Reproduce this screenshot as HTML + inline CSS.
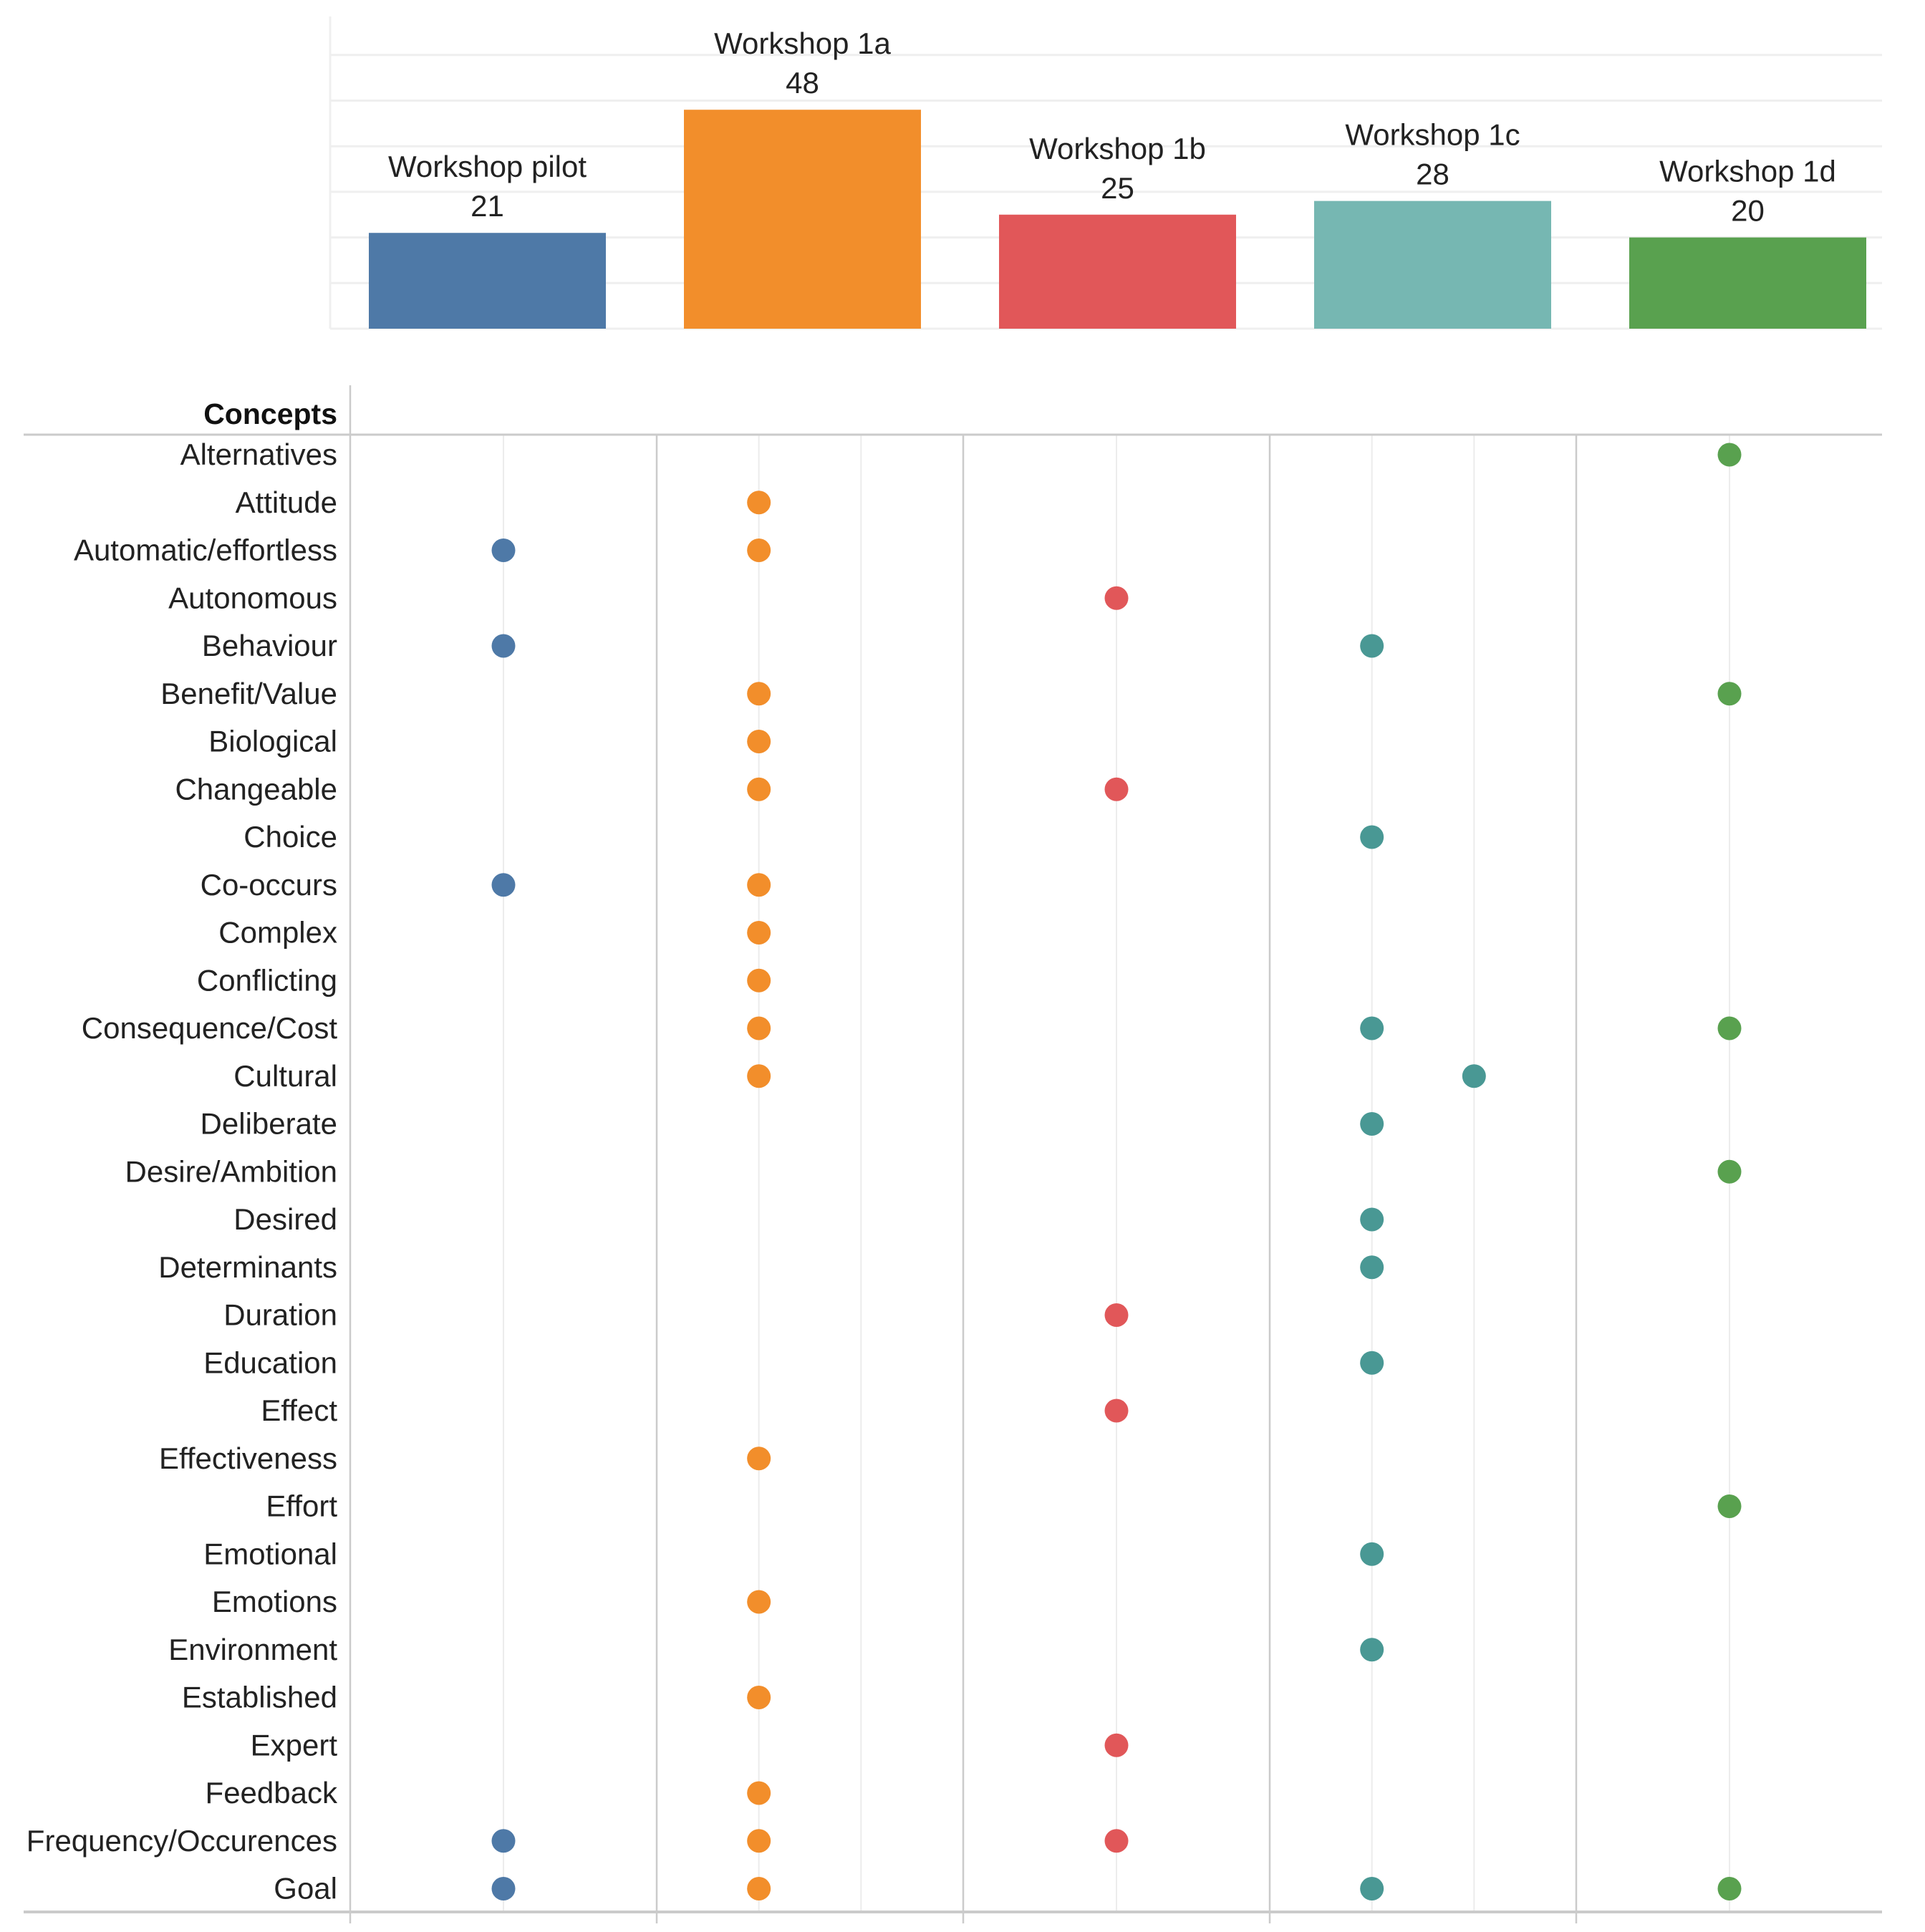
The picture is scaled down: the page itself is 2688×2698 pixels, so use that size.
<!DOCTYPE html>
<html><head><meta charset="utf-8"><style>
html,body{margin:0;padding:0;background:#fff}
svg{display:block;font-family:"Liberation Sans","DejaVu Sans",sans-serif}
</style></head><body>
<svg id="chart" xmlns="http://www.w3.org/2000/svg" width="2688" height="2698" viewBox="0 0 2688 2698"></svg>
<script>
const workshops = ["Workshop pilot","Workshop 1a","Workshop 1b","Workshop 1c","Workshop 1d"];
const workshopCounts = [21,48,25,28,20];
const barColors = ["#4e79a7","#f28e2b","#e15759","#76b7b2","#59a14f"];
const dotColors = ["#4e79a7","#f28e2b","#e15759","#499894","#59a14f"];
const subColumns = [1,2,1,2,1];
const yTicks = [0,10,20,30,40,50,60];
const concepts = ["Alternatives","Attitude","Automatic/effortless","Autonomous","Behaviour","Benefit/Value","Biological","Changeable","Choice","Co-occurs","Complex","Conflicting","Consequence/Cost","Cultural","Deliberate","Desire/Ambition","Desired","Determinants","Duration","Education","Effect","Effectiveness","Effort","Emotional","Emotions","Environment","Established","Expert","Feedback","Frequency/Occurences","Goal"];
// each entry: [workshopIndex, subColumn]
const conceptDots = [
 [[4,0]],[[1,0]],[[0,0],[1,0]],[[2,0]],[[0,0],[3,0]],[[1,0],[4,0]],[[1,0]],[[1,0],[2,0]],[[3,0]],[[0,0],[1,0]],
 [[1,0]],[[1,0]],[[1,0],[3,0],[4,0]],[[1,0],[3,1]],[[3,0]],[[4,0]],[[3,0]],[[3,0]],[[2,0]],[[3,0]],
 [[2,0]],[[1,0]],[[4,0]],[[3,0]],[[1,0]],[[3,0]],[[1,0]],[[2,0]],[[1,0]],[[0,0],[1,0],[2,0]],[[0,0],[1,0],[3,0],[4,0]]
];

const svg=document.getElementById('chart');
const NS="http://www.w3.org/2000/svg";
function mk(tag,attrs,parent){const e=document.createElementNS(NS,tag);for(const k in attrs)e.setAttribute(k,attrs[k]);(parent||svg).appendChild(e);return e;}

const plotL=461, plotR=2628, barBase=459, unitPx=6.37;
const yBar=v=>barBase-v*unitPx;
const barStep=440, barW=331, barX0=515;
const xBar=i=>barX0+i*barStep;
let g=mk('g',{});


yTicks.forEach(t=>{mk('line',{x1:plotL,x2:plotR,y1:yBar(t),y2:yBar(t),stroke:'#efefef','stroke-width':3},g);});
let ax=mk('line',{x1:plotL,x2:plotL,y1:23,y2:barBase,stroke:'#efefef','stroke-width':3});


workshops.forEach((w,i)=>{
  const v=workshopCounts[i];
  const r=mk('rect',{x:xBar(i),y:yBar(v),width:barW,height:barBase-yBar(v),fill:barColors[i]});
  
  
  const cx=xBar(i)+barW/2;
  const t1=mk('text',{x:cx,y:yBar(v)-78,'text-anchor':'middle','font-size':42,fill:'#222'});t1.textContent=w;
  
  
  const t2=mk('text',{x:cx,y:yBar(v)-23,'text-anchor':'middle','font-size':42,fill:'#222'});t2.textContent=v;
  
  
});

const paneL=489, paneW=428, row0=635, rowH=66.75, headY=607, botY=2670;
const xDot=(w,s)=>paneL+w*paneW+paneW*(s+1)/(subColumns[w]+1);
const yRow=i=>row0+i*rowH;
workshops.forEach((w,i)=>{for(let s=0;s<subColumns[i];s++){
  const l=mk('line',{x1:xDot(i,s),x2:xDot(i,s),y1:headY,y2:botY,stroke:'#ececec','stroke-width':2});
  
  
}});
for(let i=1;i<5;i++){const l=mk('line',{x1:paneL+i*paneW,x2:paneL+i*paneW,y1:headY,y2:2686,stroke:'#cbcbcb','stroke-width':2.5});
  
  }
let hl=mk('line',{x1:33,x2:plotR,y1:headY,y2:headY,stroke:'#cbcbcb','stroke-width':3});


let bl=mk('line',{x1:33,x2:plotR,y1:botY,y2:botY,stroke:'#cbcbcb','stroke-width':4});


let vl=mk('line',{x1:paneL,x2:paneL,y1:538,y2:2686,stroke:'#cbcbcb','stroke-width':2.5});


let ch=mk('text',{x:471,y:592,'text-anchor':'end','font-size':41,'font-weight':'bold',fill:'#111'});ch.textContent='Concepts';


concepts.forEach((c,i)=>{
  const t=mk('text',{x:471,y:yRow(i)+14,'text-anchor':'end','font-size':42,fill:'#222'});t.textContent=c;
  
  
  conceptDots[i].forEach(d=>{
    const cc=mk('circle',{cx:xDot(d[0],d[1]),cy:yRow(i),r:16.5,fill:dotColors[d[0]]});
    
    
  });
});
</script>
</body></html>
